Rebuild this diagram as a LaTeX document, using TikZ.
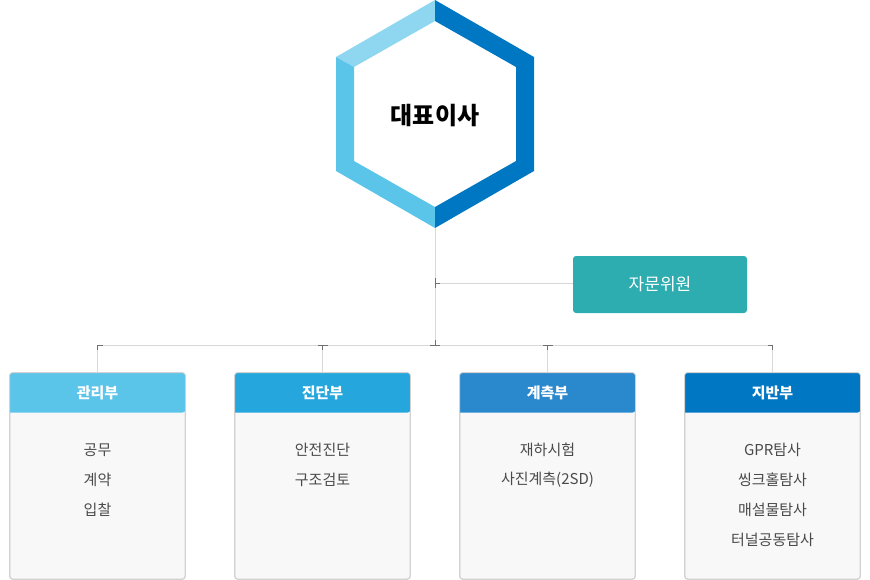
\documentclass[tikz,border=0pt]{standalone}
\usepackage{fontspec}
\setmainfont{Noto Sans CJK KR}
\usetikzlibrary{calc}
\definecolor{hexlight}{HTML}{8FD6F0}
\definecolor{hexmid}{HTML}{5BC5E9}
\definecolor{hexdark}{HTML}{0077C2}
\definecolor{advcol}{HTML}{2DADAF}
\definecolor{hA}{HTML}{5BC5E9}
\definecolor{hB}{HTML}{25A7DD}
\definecolor{hC}{HTML}{2A88CD}
\definecolor{hD}{HTML}{0077C2}
\definecolor{bodyfill}{HTML}{F8F8F8}
\definecolor{bodyline}{HTML}{D2D2D2}
\definecolor{linecol}{HTML}{D8D8D8}
\definecolor{tickcol}{HTML}{707070}
\definecolor{itemcol}{HTML}{4A4A4A}
\tikzset{
  conn/.style={draw=linecol, line width=1pt},
  tickmark/.style={draw=tickcol, line width=1pt},
  deptbox/.style={draw=bodyline, fill=bodyfill, rounded corners=3pt, minimum width=175pt, minimum height=206pt, inner sep=0pt, line width=0.8pt},
  headtext/.style={text=white, font=\bfseries\fontsize{15}{18}\selectfont, inner sep=0pt},
  itemtext/.style={text=itemcol, font=\fontsize{15}{18}\selectfont, inner sep=0pt},
  advbox/.style={fill=advcol, rounded corners=3pt, minimum width=174pt, minimum height=57pt, inner sep=0pt, text=white, font=\fontsize{17}{20}\selectfont},
}
\newcommand{\deptheader}[2]{%
  \fill[#2] ([yshift=-40pt]#1.north west) [rounded corners=3pt] |- (#1.north) -| ([yshift=-40pt]#1.north east) [sharp corners] -- cycle;}
\begin{document}
\begin{tikzpicture}[x=1pt,y=-1pt]
\useasboundingbox (0,0) rectangle (870,580);
% hexagon
\fill[hexlight] (435,0) -- (336,57) -- (354,67) -- (435,21) -- cycle;
\fill[hexmid] (336,57) -- (336,171) -- (435,228) -- (435,207) -- (354,161) -- (354,67) -- cycle;
\fill[hexdark] (435,0) -- (534,57) -- (534,171) -- (435,228) -- (435,207) -- (516,161) -- (516,67) -- (435,21) -- cycle;
\node[font=\bfseries\fontsize{24}{28}\selectfont, inner sep=0pt] (ceo) at (435,116) {대표이사};
\coordinate (hb) at (435,228);
\coordinate (adj) at (435,283);
\coordinate (j) at (435,345);
% advisor
\node[advbox] (adv) at (660,284.5) {자문위원};
% departments
\node[deptbox] (b1) at (97.5,476) {};
\node[deptbox] (b2) at (322.5,476) {};
\node[deptbox] (b3) at (547.5,476) {};
\node[deptbox] (b4) at (772.5,476) {};
\deptheader{b1}{hA}
\deptheader{b2}{hB}
\deptheader{b3}{hC}
\deptheader{b4}{hD}
\draw[bodyline, line width=0.8pt, rounded corners=3pt] (b1.south west) rectangle (b1.north east);
\draw[bodyline, line width=0.8pt, rounded corners=3pt] (b2.south west) rectangle (b2.north east);
\draw[bodyline, line width=0.8pt, rounded corners=3pt] (b3.south west) rectangle (b3.north east);
\draw[bodyline, line width=0.8pt, rounded corners=3pt] (b4.south west) rectangle (b4.north east);
\node[headtext] (t1) at (97.5,393) {관리부};
\node[headtext] (t2) at (322.5,393) {진단부};
\node[headtext] (t3) at (547.5,393) {계측부};
\node[headtext] (t4) at (772.5,393) {지반부};
\node[itemtext] (i11) at (97.5,450) {공무};
\node[itemtext] (i12) at (97.5,480) {계약};
\node[itemtext] (i13) at (97.5,510) {입찰};
\node[itemtext] (i21) at (322.5,450) {안전진단};
\node[itemtext] (i22) at (322.5,480) {구조검토};
\node[itemtext] (i31) at (547.5,450) {재하시험};
\node[itemtext] (i32) at (547.5,480) {사진계측(2SD)};
\node[itemtext] (i41) at (772.5,450) {GPR탐사};
\node[itemtext] (i42) at (772.5,480) {씽크홀탐사};
\node[itemtext] (i43) at (772.5,510) {매설물탐사};
\node[itemtext] (i44) at (772.5,540) {터널공동탐사};
% connectors
\draw[conn] (hb) -- (j);
\draw[conn] (adj) -- (adj -| adv.west);
\draw[conn] (b1.north) |- (j);
\draw[conn] (b4.north) |- (j);
\draw[conn] (b2.north) -- (b2.north |- j);
\draw[conn] (b3.north) -- (b3.north |- j);
% tick marks
\draw[tickmark] ($(adj)+(0,-5)$) -- ($(adj)+(0,5)$);
\draw[tickmark] (adj) -- ($(adj)+(5,0)$);
\draw[tickmark] ($(j)+(-5,0)$) -- ($(j)+(5,0)$);
\draw[tickmark] ($(j)+(0,-5)$) -- (j);
\draw[tickmark] ($(b1.north|-j)+(5,0)$) -- (b1.north|-j) -- ($(b1.north|-j)+(0,5)$);
\draw[tickmark] ($(b4.north|-j)+(-5,0)$) -- (b4.north|-j) -- ($(b4.north|-j)+(0,5)$);
\draw[tickmark] ($(b2.north|-j)+(-5,0)$) -- ($(b2.north|-j)+(5,0)$);
\draw[tickmark] (b2.north|-j) -- ($(b2.north|-j)+(0,5)$);
\draw[tickmark] ($(b3.north|-j)+(-5,0)$) -- ($(b3.north|-j)+(5,0)$);
\draw[tickmark] (b3.north|-j) -- ($(b3.north|-j)+(0,5)$);
\end{tikzpicture}
\end{document}
